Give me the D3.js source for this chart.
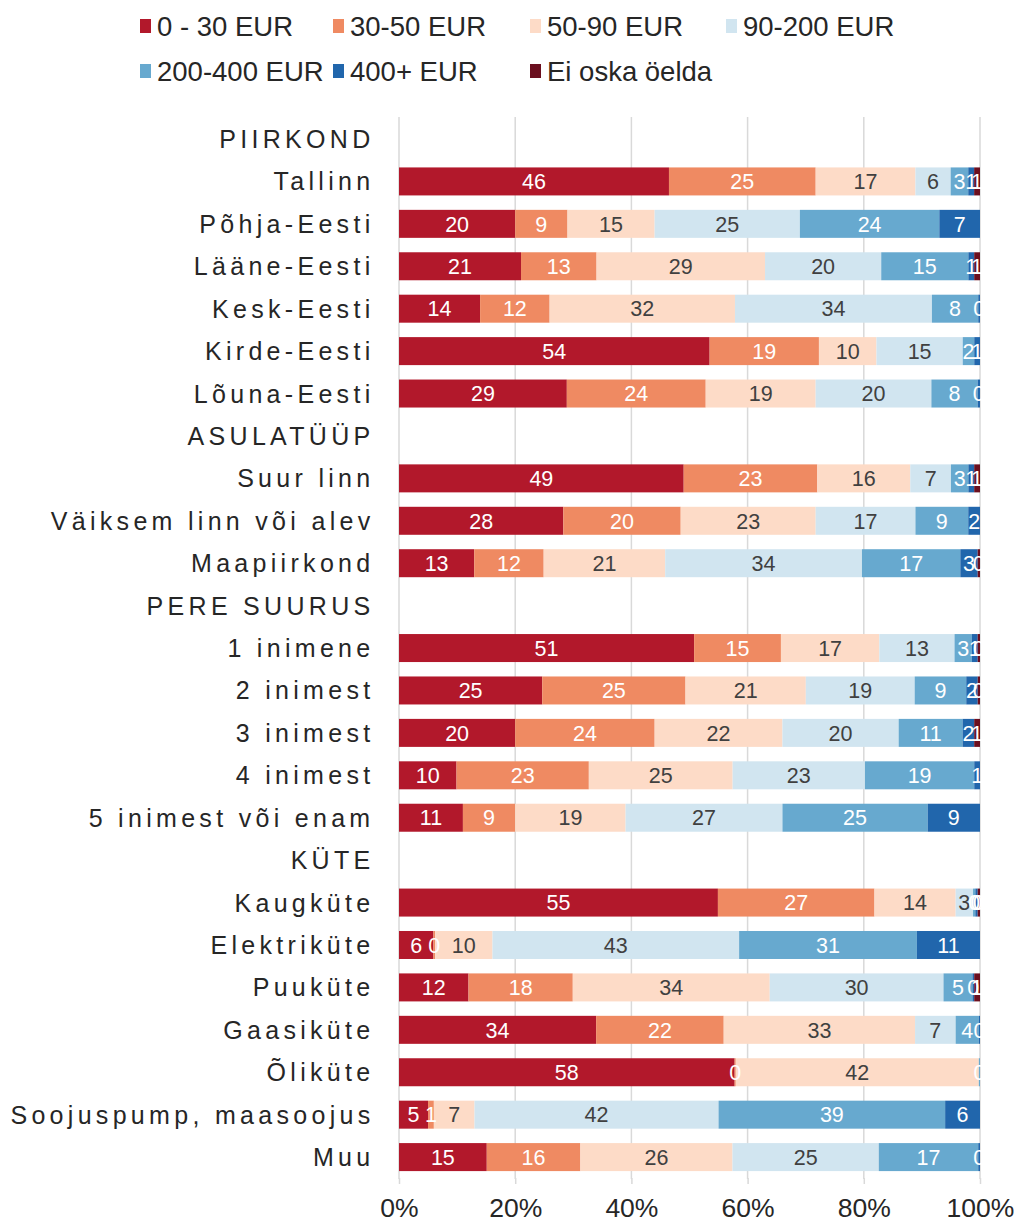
<!DOCTYPE html>
<html>
<head>
<meta charset="utf-8">
<script src="https://cdn.jsdelivr.net/npm/d3@7"></script>
<style>
  html, body { margin: 0; padding: 0; background: #ffffff; }
  svg { display: block; font-family: "Liberation Sans", Arial, sans-serif; }
</style>
</head>
<body>
<svg id="chart" width="1017" height="1224"></svg>
<script>
const seriesNames = ["0 - 30 EUR", "30-50 EUR", "50-90 EUR", "90-200 EUR", "200-400 EUR", "400+ EUR", "Ei oska öelda"];
const seriesColors = ["#b2182b", "#ef8a62", "#fddbc7", "#d1e5f0", "#67a9cf", "#2166ac", "#6b0f1f"];
const labelColors = ["#ffffff", "#ffffff", "#404040", "#404040", "#ffffff", "#ffffff", "#ffffff"];

const categories = [
  "PIIRKOND", "Tallinn", "Põhja-Eesti", "Lääne-Eesti", "Kesk-Eesti", "Kirde-Eesti", "Lõuna-Eesti",
  "ASULATÜÜP", "Suur linn", "Väiksem linn või alev", "Maapiirkond",
  "PERE SUURUS", "1 inimene", "2 inimest", "3 inimest", "4 inimest", "5 inimest või enam",
  "KÜTE", "Kaugküte", "Elektriküte", "Puuküte", "Gaasiküte", "Õliküte", "Soojuspump, maasoojus", "Muu"
];

// values per category, in series order; null = no segment / no label
const s0_30   = [null, 46, 20, 21, 14, 54, 29, null, 49, 28, 13, null, 51, 25, 20, 10, 11, null, 55, 6, 12, 34, 58, 5, 15];
const s30_50  = [null, 25, 9, 13, 12, 19, 24, null, 23, 20, 12, null, 15, 25, 24, 23, 9, null, 27, 0.3, 18, 22, 0.2, 1, 16];
const s50_90  = [null, 17, 15, 29, 32, 10, 19, null, 16, 23, 21, null, 17, 21, 22, 25, 19, null, 14, 10, 34, 33, 42, 7, 26];
const s90_200 = [null, 6, 25, 20, 34, 15, 20, null, 7, 17, 34, null, 13, 19, 20, 23, 27, null, 3, 43, 30, 7, null, 42, 25];
const s200_400= [null, 3, 24, 15, 8, 2, 8, null, 3, 9, 17, null, 3, 9, 11, 19, 25, null, 0.4, 31, 5, 4, 0.2, 39, 17];
const s400    = [null, 1, 7, 1, 0.3, 1, 0.4, null, 1, 2, 3, null, 1, 2, 2, 1, 9, null, 0.4, 11, 0.3, 0.2, null, 6, 0.3];
const sEi     = [null, 1, null, 1, null, null, null, null, 1, null, 0.4, null, 0.4, 0.4, 1, null, null, null, 0.4, null, 1, null, null, null, null];

const headers = new Set(["PIIRKOND", "ASULATÜÜP", "PERE SUURUS", "KÜTE"]);
const xTicks = [0, 0.2, 0.4, 0.6, 0.8, 1.0];

const allSeries = [s0_30, s30_50, s50_90, s90_200, s200_400, s400, sEi];
const rows = categories.map((c, i) => {
  const o = { cat: c };
  seriesNames.forEach((s, j) => { o[s] = allSeries[j][i]; });
  return o;
});

const svg = d3.select("#chart");
const x = d3.scaleLinear().domain([0, 1]).range([399, 980]);
const y = d3.scaleBand().domain(categories).range([117.8, 1178.3]).paddingInner(0.34).paddingOuter(0.17);

// gridlines
svg.append("g").selectAll("line").data(xTicks).join("line")
  .attr("x1", d => x(d)).attr("x2", d => x(d))
  .attr("y1", 117).attr("y2", 1179)
  .attr("stroke", "#d9d9d9").attr("stroke-width", 1.5);

// stacked bars (normalized to 100%)
const stacked = d3.stack().keys(seriesNames)
  .value((d, k) => d[k] == null ? 0 : d[k])
  .offset(d3.stackOffsetExpand)(rows.map(r => headers.has(r.cat) ? Object.fromEntries([["cat", r.cat], ...seriesNames.map(s => [s, 0])]) : r));

const gBars = svg.append("g");
stacked.forEach((layer, j) => {
  const g = gBars.append("g");
  layer.forEach((seg, i) => {
    const row = rows[i];
    if (headers.has(row.cat)) return;
    const v = row[seriesNames[j]];
    if (v == null || isNaN(seg[0]) || isNaN(seg[1])) return;
    const w = x(seg[1]) - x(seg[0]);
    if (w > 0) {
      g.append("rect")
        .attr("x", x(seg[0])).attr("y", y(row.cat))
        .attr("width", w).attr("height", y.bandwidth())
        .attr("fill", seriesColors[j]);
    }
  });
});

// value labels
const gLab = svg.append("g");
stacked.forEach((layer, j) => {
  layer.forEach((seg, i) => {
    const row = rows[i];
    if (headers.has(row.cat)) return;
    const v = row[seriesNames[j]];
    if (v == null || isNaN(seg[0])) return;
    gLab.append("text")
      .attr("x", (x(seg[0]) + x(seg[1])) / 2)
      .attr("y", y(row.cat) + y.bandwidth() / 2)
      .attr("dy", "0.36em")
      .attr("text-anchor", "middle")
      .attr("font-size", 21.5)
      .attr("fill", labelColors[j])
      .text(d3.format(".0f")(v));
  });
});

// category labels
svg.append("g").selectAll("text").data(categories).join("text")
  .attr("x", 374.5)
  .attr("y", d => y(d) + y.bandwidth() / 2)
  .attr("dy", "0.36em")
  .attr("text-anchor", "end")
  .attr("font-size", 25)
  .attr("letter-spacing", "4.3px")
  .attr("fill", "#262626")
  .text(d => d);

// x axis
const xAxis = d3.axisBottom(x).tickValues(xTicks).tickFormat(d3.format(".0%")).tickSize(6).tickPadding(14);
const gAx = svg.append("g").attr("transform", "translate(0,1178)").call(xAxis);
gAx.select(".domain").remove();
gAx.selectAll(".tick line").attr("stroke", "#d9d9d9").attr("stroke-width", 1.5);
gAx.selectAll(".tick text").attr("font-size", 26.5).attr("fill", "#262626").attr("font-family", "'Liberation Sans', Arial, sans-serif");

// legend
const legendPos = [[140, 26], [333, 26], [530, 26], [726, 26], [140, 71], [333, 71], [530, 71]];
const gLeg = svg.append("g");
seriesNames.forEach((s, j) => {
  const [lx, ly] = legendPos[j];
  gLeg.append("rect").attr("x", lx).attr("y", ly - 7).attr("width", 11).attr("height", 14).attr("fill", seriesColors[j]);
  gLeg.append("text").attr("x", lx + 17).attr("y", ly).attr("dy", "0.36em")
    .attr("font-size", 27.5).attr("fill", "#262626").text(s);
});
</script>
</body>
</html>
